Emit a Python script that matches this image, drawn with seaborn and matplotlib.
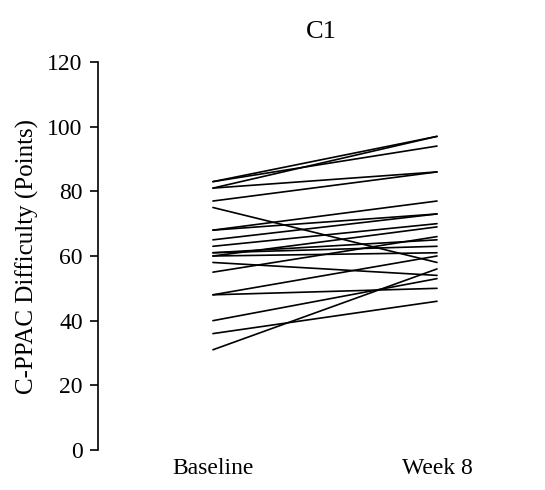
import numpy as np
import pandas as pd
import matplotlib
matplotlib.use("Agg")
import matplotlib.pyplot as plt
import seaborn as sns

# values (one pair per subject)
timepoints = ["Baseline", "Week 8"]
baseline = [83, 83, 81, 81, 77, 75, 68, 68, 65, 63, 61, 61, 60, 60, 58, 55, 48, 48, 40, 36, 31]
week8 = [97, 94, 97, 86, 86, 58, 77, 73, 73, 70, 65, 63, 61, 69, 54, 66, 60, 50, 53, 46, 56]

n = len(baseline)
df = pd.DataFrame({
    "subject": list(range(n)) * 2,
    "time": [0] * n + [1] * n,
    "score": baseline + week8,
})

sns.set_style("white")
plt.rcParams["font.family"] = ["Liberation Serif", "DejaVu Serif"]
plt.rcParams["text.color"] = "black"
plt.rcParams["axes.labelcolor"] = "black"
plt.rcParams["xtick.color"] = "black"
plt.rcParams["ytick.color"] = "black"

fig = plt.figure(figsize=(5.45, 4.90), dpi=100)
ax = fig.add_axes([98 / 545, 40 / 490, 447 / 545, 388 / 490])

sns.lineplot(data=df, x="time", y="score", units="subject", estimator=None,
             color="black", linewidth=1.2, ax=ax, legend=False)

ax.set_xlim(-0.513, 1.482)
ax.set_ylim(0, 120)
ax.set_yticks(range(0, 121, 20))
ax.set_xticks([0, 1])
ax.set_xticklabels(timepoints)
ax.tick_params(axis="y", direction="out", length=6, width=1.2, labelsize=17, left=True, pad=5)
ax.tick_params(axis="x", length=0, labelsize=17, pad=6)
for s in ["top", "right", "bottom"]:
    ax.spines[s].set_visible(False)
ax.spines["left"].set_color("black")
ax.spines["left"].set_linewidth(1.2)
ax.set_xlabel("")
ax.set_ylabel("C-PPAC Difficulty (Points)", fontsize=18, labelpad=6)
ax.set_title("C1", fontsize=19, pad=17, color="black")

fig.savefig("out.png", dpi=100)
